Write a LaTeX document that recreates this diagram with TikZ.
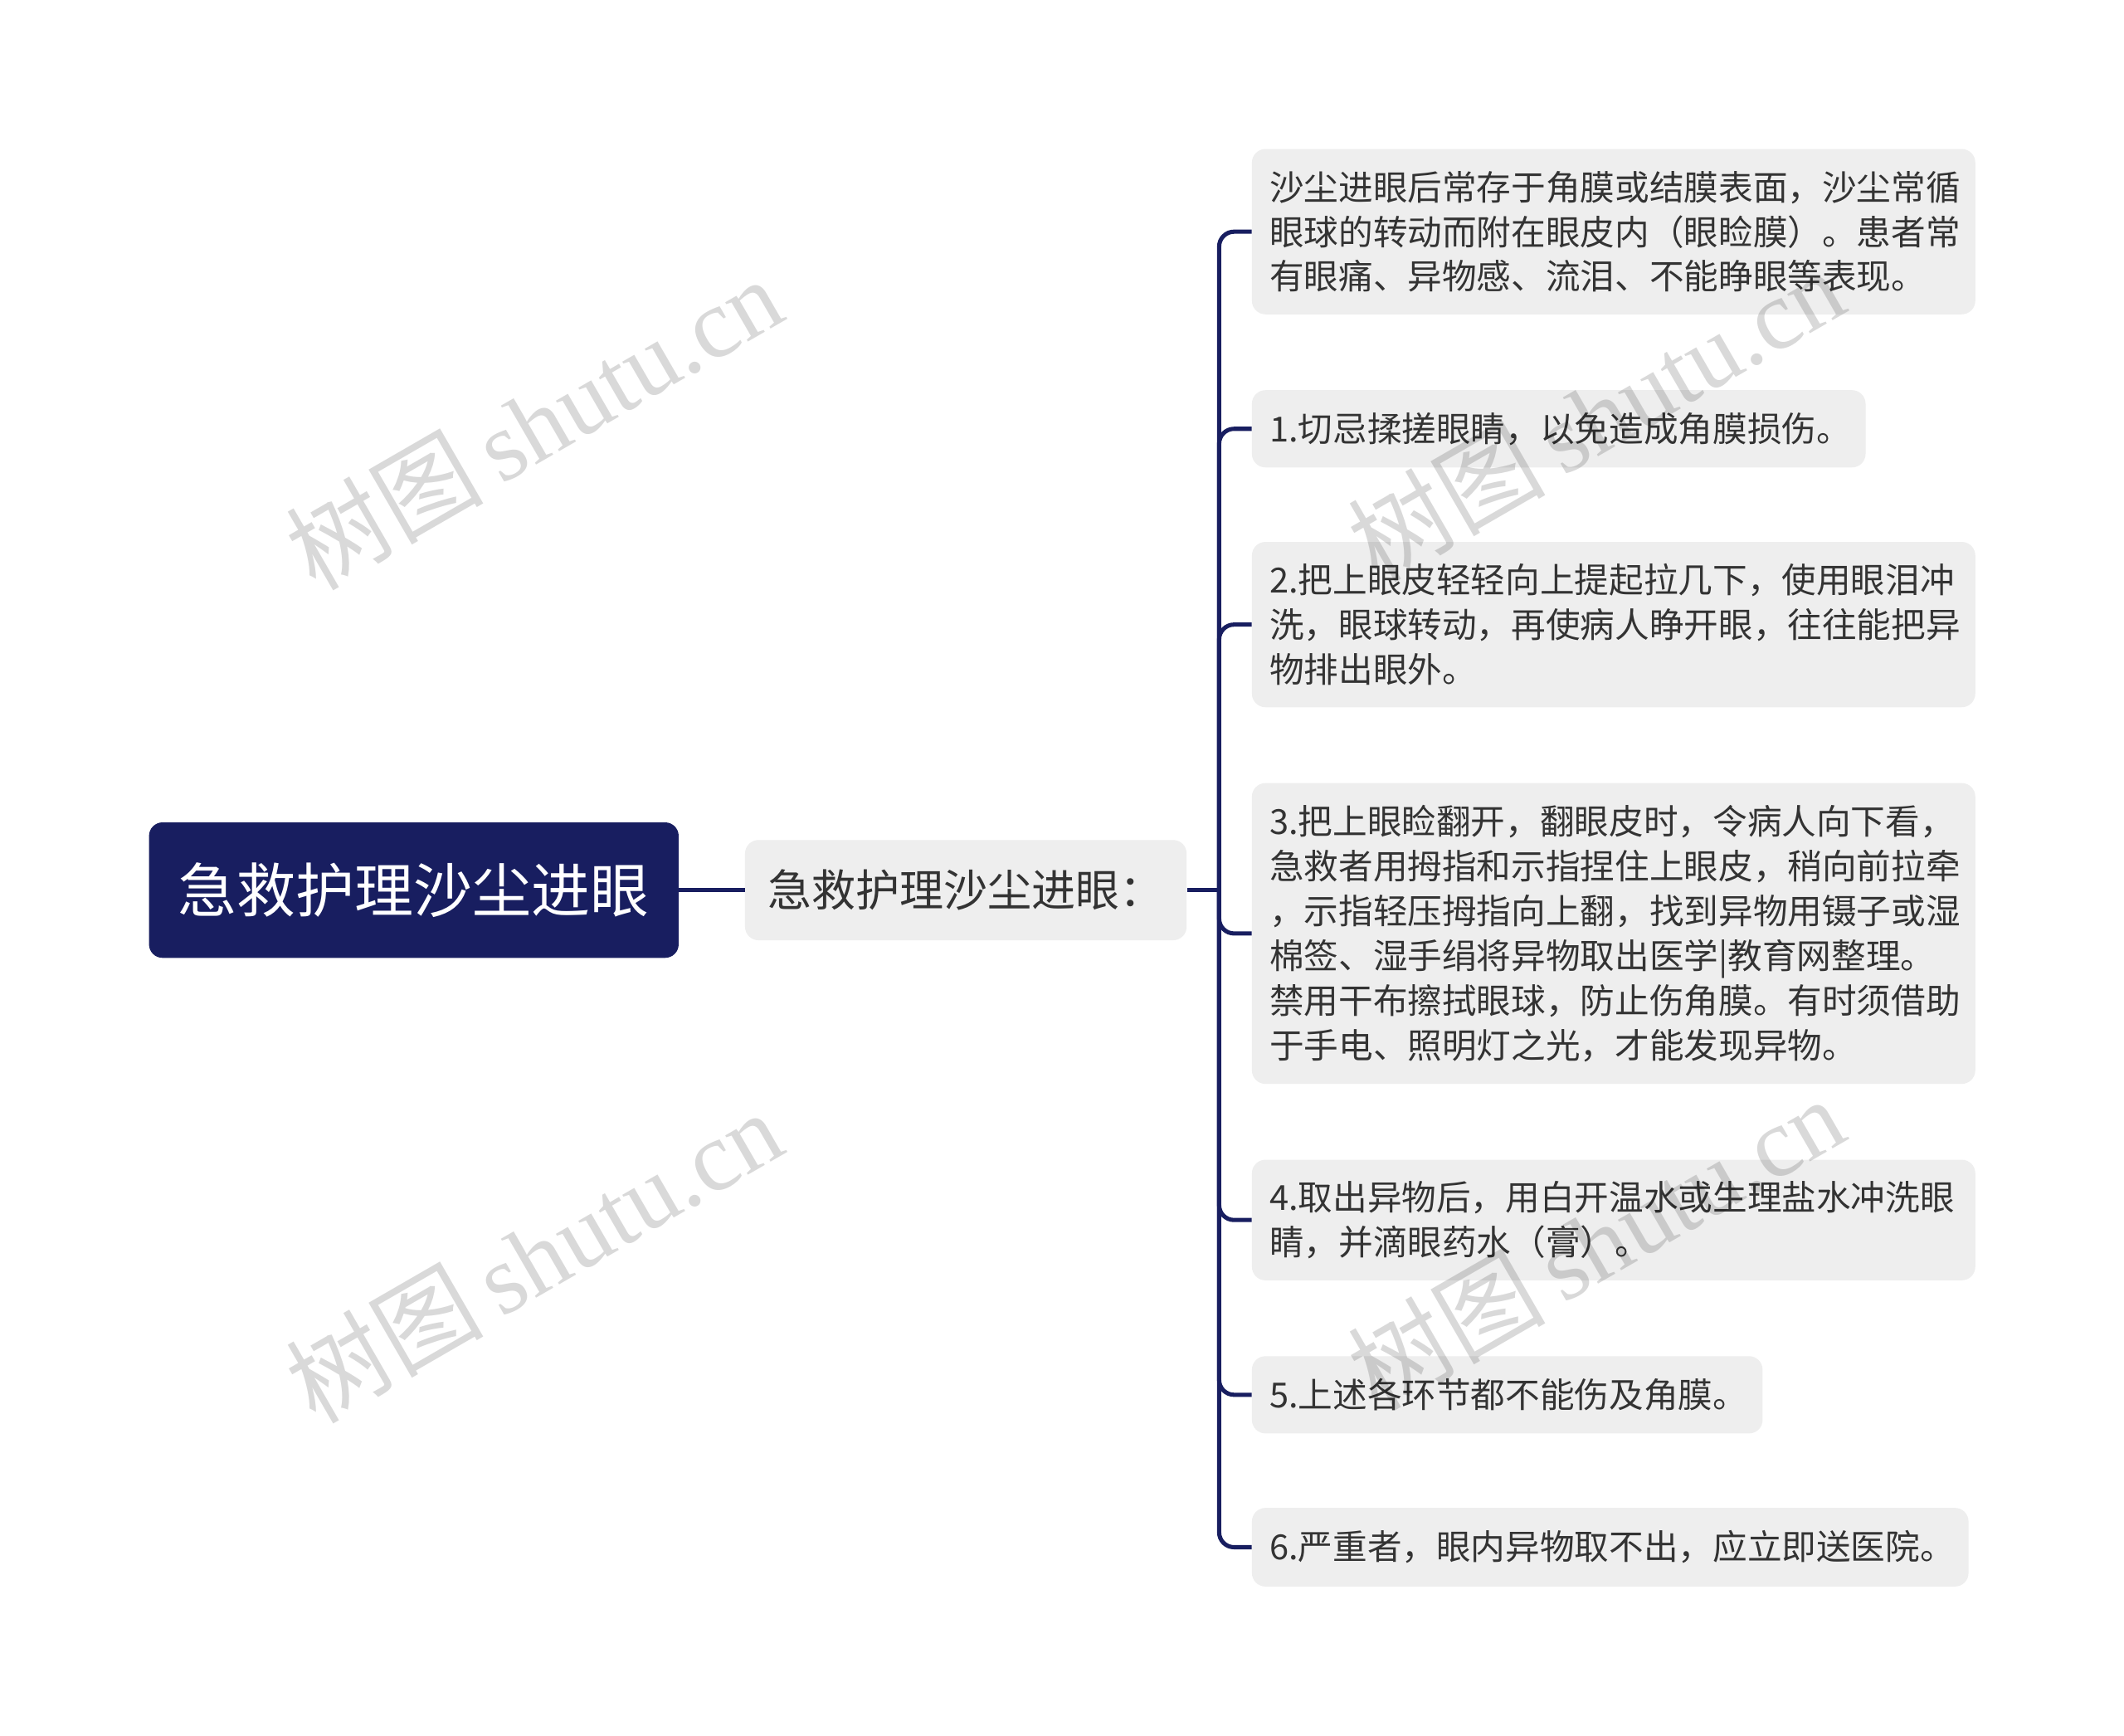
\documentclass[tikz,border=0pt]{standalone}
\usepackage{fontspec}
\setmainfont{Noto Sans CJK SC}
\newfontfamily\wmlatin{Liberation Serif}
\definecolor{navy}{HTML}{181E60}
\definecolor{leafgray}{HTML}{EEEEEE}
\definecolor{txt}{HTML}{333333}
\begin{document}
\begin{tikzpicture}[x=1pt,y=-1pt,
  rootbox/.style={fill=navy, rounded corners=10pt, text=white, minimum width=391pt, minimum height=100pt, inner sep=0pt, font=\fontsize{43.5}{50}\selectfont},
  midbox/.style={fill=leafgray, rounded corners=10pt, text=txt, minimum width=326pt, minimum height=74pt, inner sep=0pt, font=\fontsize{32.5}{38}\selectfont},
  leaf/.style={anchor=west, fill=leafgray, rounded corners=10pt, text=txt, align=left, inner xsep=13pt, inner ysep=0pt, font=\fontsize{25.5}{33}\selectfont},
  conn/.style={draw=navy, line width=3.1pt, rounded corners=11pt},
  wm/.style={rotate=30, text=black, opacity=0.15, inner sep=0pt}]
\useasboundingbox (0,0) rectangle (1568,1281);
\fill[white] (0,0) rectangle (1568,1281);

\node[rootbox] (root) at (305.5,657) {急救护理沙尘进眼};
\node[midbox] (mid) at (713,657) {急救护理沙尘进眼：};
\coordinate (j) at (900,657);

\node[leaf, text width=508pt, minimum height=122pt] (l1) at (924,171) {沙尘进眼后常存于角膜或结膜表面，沙尘常循\\眼球的转动而附在眼皮内（眼睑膜）。患者常\\有眼痛、异物感、流泪、不能睁眼等表现。};
\node[leaf, text width=427pt, minimum height=57pt] (l2) at (924,316.5) {1.切忌揉搓眼睛，以免造成角膜损伤。};
\node[leaf, text width=508pt, minimum height=122pt] (l3) at (924,461) {2.把上眼皮轻轻向上提起拉几下，使用眼泪冲\\洗，眼球转动，再使病人睁开眼，往往能把异\\物排出眼外。};
\node[leaf, text width=508pt, minimum height=222pt] (l4) at (924,689) {3.把上眼睑翻开，翻眼皮时，令病人向下看，\\急救者用拇指和示指捏住上眼皮，稍向前拉牵\\，示指轻压拇指向上翻，找到异物用镊子或湿\\棉签、湿手绢将异物取出医学|教育网整理。\\禁用干布擦拭眼球，防止伤角膜。有时须借助\\于手电、照明灯之光，才能发现异物。};
\node[leaf, text width=508pt, minimum height=89pt] (l5) at (924,900.5) {4.取出异物后，用白开温水或生理盐水冲洗眼\\睛，并滴眼药水（膏）。};
\node[leaf, text width=351pt, minimum height=57pt] (l6) at (924,1029.5) {5.上述各环节都不能伤及角膜。};
\node[leaf, text width=503pt, minimum height=58pt] (l7) at (924,1142) {6.严重者，眼内异物取不出，应立即送医院。};

\draw[conn] (root.east) -- (mid.west);
\draw[conn] (mid.east) -- (j);
\foreach \n in {l1,l2,l3,l4,l5,l6,l7}
  \draw[conn] (j) |- (\n.west);

\foreach \p/\q [count=\i] in {394/312, 1178/306, 394/927, 1178/917}
  \node[wm] (wm\i) at (\p,\q) {\fontsize{73}{73}\selectfont 树图\,{\wmlatin shutu.cn}};
\end{tikzpicture}
\end{document}
